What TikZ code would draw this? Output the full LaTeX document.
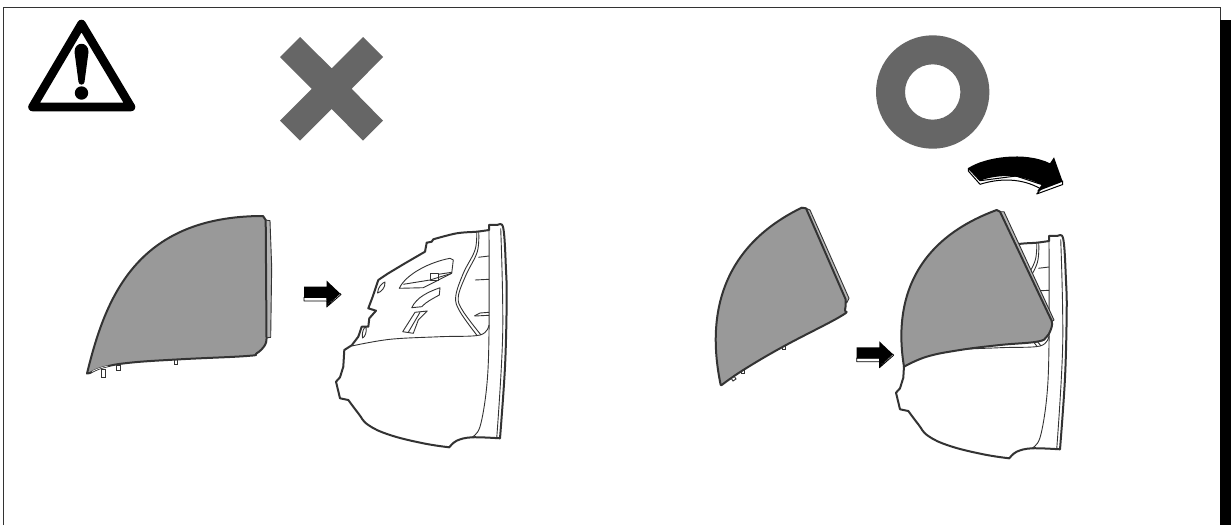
\documentclass[tikz,border=0pt]{standalone}
\definecolor{symgray}{HTML}{666666}
\definecolor{flapgray}{HTML}{999999}
\definecolor{stripe}{HTML}{B5B5B5}
\definecolor{ink}{HTML}{333333}
\tikzset{
 thick line/.style={draw=ink,line width=1pt,line join=round},
 thin line/.style={draw=ink,line width=0.45pt,line join=round},
 flapfill/.style={fill=flapgray,draw=ink,line width=1pt,line join=round},
 tabline/.style={draw=ink,line width=0.45pt,fill=white},
}
\newcommand{\bodydrawing}{%
 \path[fill=white,thick line] (489,225) -- plot[smooth,tension=0.6] coordinates {(489,225)(496.7,225)(503.3,228.3)(506,270)(506.7,300)(505,366.7)(500,438.3)} -- plot[smooth,tension=0.6] coordinates {(500,438.3)(471.7,437.3)(456.7,440.7)(449.3,447.3)} -- plot[smooth,tension=0.7] coordinates {(449.3,447.3)(423.3,443.3)(390,435)(368.3,425)(358.3,413.3)(348.3,400)} -- (340,398.3) -- (336,381.7) -- (340,377.3) -- (343.3,366.7) -- (344.3,350) -- (351.7,345.3) -- (358.3,336.7) -- (361.7,326.7) -- (368.3,326.7) -- (369.3,318.3) -- (376,310.7) -- (368.3,308.3) -- (372.7,296.7) -- (378.3,280) -- (388.3,273.3) -- (405,263.3) -- (425,251.7) -- (426.7,242.7) -- (431.7,241.7) -- (433.3,239.3) -- plot[smooth,tension=0.6] coordinates {(433.3,239.3)(456.7,233.3)(476.7,231.7)(489,230)} -- cycle;
 \draw[thin line] plot[smooth,tension=0.6] coordinates {(489,230)(489,333)(486.7,386.7)(480,426.7)(471.7,437.3)};
 \draw[thin line] plot[smooth,tension=0.6] coordinates {(500.7,228.3)(502.7,333)(496.7,438.3)};
 \draw[thin line] plot[smooth,tension=0.6] coordinates {(351.7,346)(390,339.3)(440,336.7)(480,335)(489,325)};
 \draw[thin line] plot[smooth,tension=0.6] coordinates {(476.7,231.7)(475,250)(463.3,273.3)(455.7,296.7)(460,311.7)(476.7,335)};
 \draw[thin line] plot[smooth,tension=0.6] coordinates {(478.7,231.7)(477.3,251.7)(466,275)(458.3,296.7)(462.7,310.7)(481,335)};
 \draw[thin line] (478.3,257.3) -- (489,256);
 \draw[thin line] (475,280) -- (489,279.3);
 \draw[thin line] (474.3,316) -- (480,313) -- (489,312.3);
 \draw[thin line] (475,316) -- (489,315.3);
 \draw[thin line] (399.3,288.3) .. controls (406,274) and (430,262) .. (450,258.3) -- (453.3,260) -- (451.7,273.3) -- (423.3,287.7) -- cycle;
 \draw[thin line] (403.3,284.3) -- (430,280) -- (451.7,273.3);
 \draw[thin line] (430.7,273.3) rectangle (438.3,280);
 \draw[thin line] (438.3,274.3) -- (451.7,272.3);
 \draw[thin line] (411.7,307.7) .. controls (417,297) and (428,292) .. (440,287.7) -- (439.3,295) .. controls (432,299) and (426,302) .. (421.7,306.7) -- cycle;
 \draw[thin line] (402.7,331.7) -- (415,312.3) -- (427.3,311) -- (418.3,320) -- (413.3,333.3) -- cycle;
 \draw[thin line] (408.3,332.3) -- (420,312.3);
 \draw[thin line] (377.5,293) .. controls (378,287) and (382,283) .. (385,282) .. controls (385.5,288) and (381,292) .. (377.5,293) -- cycle;
 \draw[thin line] (362.5,338) .. controls (361.5,332) and (364,327) .. (366,327) .. controls (367,332) and (365,337) .. (362.5,338) -- cycle;
}
\newcommand{\straightarrow}{%
 \path[fill=white,draw=black,line width=0.4pt,line join=round] (304,297.3) -- (304,301) -- (326.7,301) -- (326.7,307) -- (341,294.5) -- (340,293.3) -- (327.3,305) -- (326.7,297.3) -- cycle;
 \fill[black] (304,286.7) -- (326.7,286.7) -- (326.7,280.7) -- (340,293.3) -- (327.3,304.5) -- (326.7,297.8) -- (304,297.8) -- cycle;
}
\begin{document}
\begin{tikzpicture}[x=0.5pt,y=-0.5pt]
\useasboundingbox (0,0) rectangle (1231,525);
\fill[white] (0,0) rectangle (1231,525);
% frame and black bar
\draw[draw=ink,line width=0.5pt] (3.4,525) -- (3.4,7.5) -- (1220,7.5) -- (1220,20);
\draw[draw=ink,line width=0.5pt] (1220,20) -- (1231,20);
\fill[black] (1220,20.3) rectangle (1231,525);
% warning sign
\draw[black,line width=4.3pt,line join=round] (81.5,24) -- (131,107) -- (32.5,107) -- cycle;
\fill[black] (74.5,52) .. controls (74.5,41) and (88.5,41) .. (88.5,52) -- (84.5,82) .. controls (84,85.5) and (79,85.5) .. (78.5,82) -- cycle;
\fill[black] (81.5,93) circle[radius=6.7];
% cross
\fill[symgray] (300,37) -- (331.7,68.3) -- (363,37) -- (383,57) -- (351.7,88.8) -- (383,120.7) -- (363,140.7) -- (331.7,109) -- (300,140.7) -- (280,120.7) -- (311.7,88.8) -- (280,57) -- cycle;
% ring
\fill[symgray,even odd rule] (932.7,92) circle[radius=56.7] (932.7,92) circle[radius=27.7];
% left flap
\draw[tabline] (101.7,369) rectangle (105.7,377.3);
\draw[tabline] (116.7,365) rectangle (120,370);
\draw[tabline] (174,359) rectangle (177.3,364);
\path[fill=stripe,thin line] (263,216.5) -- (265.7,220) -- (270,220.7) -- (271.7,267) -- (270.7,337.3) -- (266,338) -- cycle;
\path[flapfill] (87,373.5) .. controls (105,300) and (135,216) .. (263,216) -- (265.7,220) -- (266.5,337.3) -- plot[smooth,tension=0.7] coordinates {(266.5,337.3)(265,345)(256.7,353.3)(246.7,356)(180,359.3)(130,362.7)(103.3,367.3)(90,373)} -- cycle;
\draw[draw=white,line width=0.3pt] (92,371.5) .. controls (97,369) and (101,367.5) .. (108,366);
% first arrow, body
\straightarrow
\bodydrawing
% right loose flap
\draw[tabline] (731,378) -- (733,381) -- (736,379) -- (734,376) -- cycle;
\draw[tabline] (741,369) rectangle (744.5,373);
\draw[tabline] (782,346) rectangle (785,349.5);
\path[fill=stripe,thin line] (806,208.3) -- (810,210) -- (849,298.3) -- (846.7,303) -- (845,299) -- cycle;
\path[flapfill] (720.7,385) .. controls (705,310) and (725,245) .. (801.7,207.7) -- (806,208.3) -- (845.5,299) -- plot[smooth,tension=0.7] coordinates {(845.5,299)(845,310)(840,316.7)(783,346.7)(743.3,370)(721.7,385)} -- cycle;
% second arrow
\begin{scope}[shift={(552.7,60.7)}]\straightarrow\end{scope}
% assembled body
\begin{scope}[shift={(560,11)}]\bodydrawing\end{scope}
\path[fill=stripe,thin line] (1000,211.7) -- (1004,211.7) -- (1054,320) -- (1051.7,321.7) -- cycle;
\path[flapfill] (904,366.7) .. controls (893,300) and (915,240) .. (996.7,210) -- (1000,211.7) -- (1051.5,320.5) -- plot[smooth,tension=0.7] coordinates {(1051.5,320.5)(1051.7,326.7)(1046.7,336.7)(1036.7,341.7)(1000,345)(960,350)(926.7,356.7)(904,366.7)} -- cycle;
% curved arrow
\path[fill=white,draw=black,line width=0.5pt,line join=round] (968.3,168.3) -- (968.3,171) -- (980,184.3) .. controls (1000,178) and (1022,178) .. (1041,189) -- (1036.7,194) -- (1062.7,184.5) -- (1062.7,181) -- (1040,184) -- (1016,176) -- (980,180.7) -- cycle;
\fill[black] (968.3,168) .. controls (985,157) and (1025,151) .. (1050,163.3) -- (1054,157.3) -- (1062.7,181.7) -- (1037,191.5) -- (1041.5,185) .. controls (1022,174) and (998,174) .. (980,180.7) -- cycle;
\end{tikzpicture}
\end{document}
